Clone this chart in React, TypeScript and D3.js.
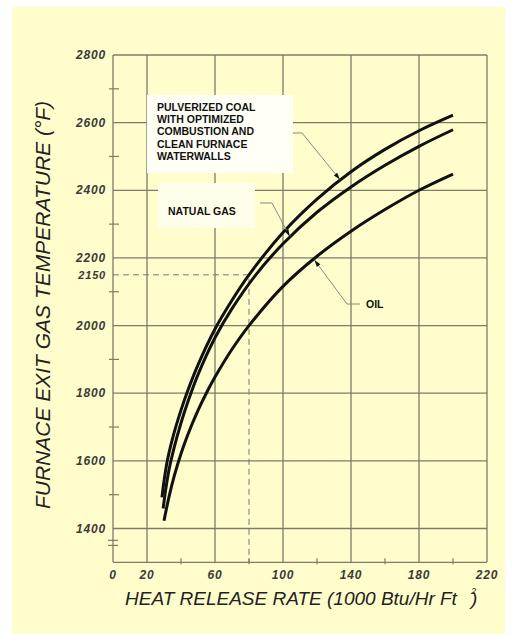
import React from "react";
import * as d3 from "d3";

const coalX = [28.8, 30, 32, 36, 40, 44, 50, 60, 70, 80, 100, 120, 140, 160, 180, 200];
const coalT = [1492, 1540, 1602, 1684, 1750, 1808, 1884, 1990, 2075, 2150, 2275, 2374, 2455, 2521, 2576, 2622];
const gasX = [29.5, 31, 33, 36, 40, 44, 50, 60, 70, 84, 100, 120, 140, 160, 180, 200];
const gasT = [1459, 1515, 1575, 1640, 1712, 1774, 1855, 1964, 2050, 2150, 2242, 2335, 2410, 2474, 2530, 2579];
const oilX = [30, 33, 36, 40, 44, 50, 56, 60, 70, 80, 100, 120, 140, 160, 180, 200];
const oilT = [1423, 1495, 1555, 1621, 1677, 1749, 1811, 1848, 1930, 2000, 2116, 2205, 2279, 2343, 2400, 2448];

const xGrid = [20, 60, 100, 140, 180, 220];
const xTickLabels = [0, 20, 60, 100, 140, 180, 220];
const xMinor = [40, 80, 120, 160, 200];
const yGrid = [2800, 2600, 2400, 2200, 2000, 1800, 1600, 1400];
const yMinor = [2700, 2500, 2300, 2100, 1900, 1700, 1500];
const refX = 80;
const refT = 2150;

const coalLabel = ["PULVERIZED COAL", "WITH OPTIMIZED", "COMBUSTION AND", "CLEAN FURNACE", "WATERWALLS"];
const gasLabel = "NATUAL GAS";
const oilLabel = "OIL";

const FONT = "'Liberation Sans', Arial, Helvetica, sans-serif";

function interp(xs: number[], ts: number[], v: number) {
  for (let i = 0; i < xs.length - 1; i++) {
    if (v >= xs[i] && v <= xs[i + 1]) {
      const f = (v - xs[i]) / (xs[i + 1] - xs[i]);
      return ts[i] + f * (ts[i + 1] - ts[i]);
    }
  }
  return ts[ts.length - 1];
}

export default function App() {
  const x = d3.scaleLinear().domain([0, 220]).range([113, 487]);
  const y = d3.scaleLinear().domain([1400, 2800]).range([528.5, 55]);
  const yBottom = y(1300);
  const gridColor = "#7f7b66";

  const line = d3
    .line<[number, number]>()
    .x((d) => x(d[0]))
    .y((d) => y(d[1]))
    .curve(d3.curveCatmullRom.alpha(0.5));

  const series = [
    coalX.map((v, i) => [v, coalT[i]] as [number, number]),
    gasX.map((v, i) => [v, gasT[i]] as [number, number]),
    oilX.map((v, i) => [v, oilT[i]] as [number, number]),
  ];

  const arrow = (x1: number, y1: number, x2: number, y2: number) => {
    const a = Math.atan2(y2 - y1, x2 - x1);
    const L = 7, W = 2.2;
    const bx = x2 - L * Math.cos(a), by = y2 - L * Math.sin(a);
    const px = -Math.sin(a) * W, py = Math.cos(a) * W;
    return `M${x2},${y2}L${bx + px},${by + py}L${bx - px},${by - py}Z`;
  };

  const coalTip = [x(133.5), y(interp(coalX, coalT, 133.5)) - 1];
  const gasTip = [x(104), y(interp(gasX, gasT, 104)) - 1];
  const oilTip = [x(118.5), y(interp(oilX, oilT, 118.5)) + 1.5];

  const leaders = [
    { start: [293, 133], knee: [302, 133], tip: coalTip },
    { start: [260, 203], knee: [272, 203], tip: gasTip },
    { start: [360, 304], knee: [347, 304], tip: oilTip },
  ];

  return (
    <svg width={513} height={634} style={{ position: "absolute", left: 0, top: 0 }}>
      <rect x={0} y={0} width={513} height={634} fill="#ffffff" />
      <rect x={12} y={7} width={493} height={627} fill="#fffdcb" />

      {/* grid */}
      {yGrid.map((t) => (
        <line key={"hy" + t} x1={x(0)} x2={x(220)} y1={y(t)} y2={y(t)} stroke={gridColor} strokeWidth={1.3} />
      ))}
      {xGrid.map((v) => (
        <line key={"vx" + v} x1={x(v)} x2={x(v)} y1={y(2800)} y2={yBottom} stroke={gridColor} strokeWidth={1.3} />
      ))}
      {/* axes */}
      <line x1={x(0)} x2={x(0)} y1={y(2800)} y2={yBottom} stroke={gridColor} strokeWidth={1.3} />
      <line x1={x(0)} x2={x(220)} y1={yBottom} y2={yBottom} stroke={gridColor} strokeWidth={1.3} />
      {yMinor.map((t) => (
        <line key={"my" + t} x1={x(0) - 4} x2={x(0) + 6} y1={y(t)} y2={y(t)} stroke={gridColor} strokeWidth={1.2} />
      ))}
      {xMinor.map((v) => (
        <line key={"mx" + v} x1={x(v)} x2={x(v)} y1={yBottom - 4} y2={yBottom + 2} stroke={gridColor} strokeWidth={1.2} />
      ))}
      {/* axis break */}
      <line x1={x(0) - 5} x2={x(0) + 5} y1={y(1365)} y2={y(1365)} stroke={gridColor} strokeWidth={1.2} />
      <line x1={x(0) - 5} x2={x(0) + 5} y1={y(1350)} y2={y(1350)} stroke={gridColor} strokeWidth={1.2} />

      {/* reference dashed */}
      <path
        d={`M${x(0)},${y(refT)}H${x(refX)}V${yBottom}`}
        fill="none"
        stroke="#777"
        strokeWidth={1}
        strokeDasharray="6,4"
      />

      {/* label boxes */}
      <rect x={147} y={95} width={146} height={78} fill="#fffff6" />
      <rect x={158} y={183} width={97} height={45} fill="#fffeea" />

      {/* curves */}
      {series.map((s, i) => (
        <path key={"c" + i} d={line(s) || ""} fill="none" stroke="#111" strokeWidth={3} />
      ))}

      {/* leaders */}
      {leaders.map((l, i) => (
        <g key={"l" + i}>
          <path
            d={`M${l.start[0]},${l.start[1]}L${l.knee[0]},${l.knee[1]}L${l.tip[0]},${l.tip[1]}`}
            fill="none"
            stroke="#888"
            strokeWidth={1}
          />
          <path d={arrow(l.knee[0], l.knee[1], l.tip[0], l.tip[1])} fill="#111" />
        </g>
      ))}

      {/* annotations */}
      <g fontFamily={FONT} fontWeight="bold" fontSize={10.5} fill="#111">
        {coalLabel.map((s, i) => (
          <text key={s} x={157} y={110.7 + i * 12.3}>
            {s}
          </text>
        ))}
        <text x={168} y={215}>{gasLabel}</text>
        <text x={366} y={308}>{oilLabel}</text>
      </g>

      {/* tick labels */}
      <g fontFamily={FONT} fontStyle="italic" fontWeight="bold" fill="#3a3a3a" fontSize={12} letterSpacing={0.8}>
        {yGrid.map((t) => (
          <text key={"ty" + t} x={106} y={y(t)} dy="0.35em" textAnchor="end">
            {t}
          </text>
        ))}
        <text x={106} y={y(refT)} dy="0.35em" textAnchor="end" fontSize={11}>
          {refT}
        </text>
        {xTickLabels.map((v) => (
          <text key={"tx" + v} x={x(v)} y={579} textAnchor="middle">
            {v}
          </text>
        ))}
      </g>

      {/* axis titles */}
      <text
        transform={`translate(50,305) rotate(-90)`}
        textAnchor="middle"
        fontFamily={FONT}
        fontStyle="italic"
        fontSize={21}
        fill="#222"
      >
        FURNACE EXIT GAS TEMPERATURE (°F)
      </text>
      <text x={125} y={605} fontFamily={FONT} fontStyle="italic" fontSize={19} fill="#222">
        HEAT RELEASE RATE (1000 Btu/Hr Ft
        <tspan dx={14} dy={-11} fontSize={9}>
          2
        </tspan>
        <tspan dx={-5} dy={11}>
          )
        </tspan>
      </text>
    </svg>
  );
}
